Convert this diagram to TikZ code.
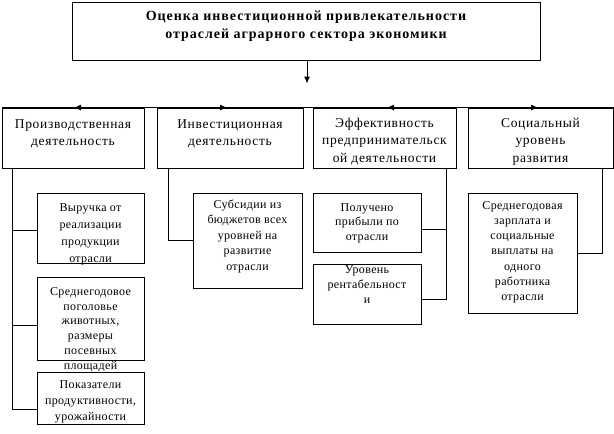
\documentclass[tikz,border=0pt]{standalone}
\usepackage{fontspec}
\setmainfont{Liberation Serif}
\usetikzlibrary{arrows.meta,calc}
\newcommand{\tp}{\rule{0pt}{0.75em}}
\begin{document}
\begin{tikzpicture}[x=1pt,y=-1pt,
  box/.style={draw,line width=1pt,inner sep=0pt,rectangle},
  txt/.style={anchor=north,inner sep=0pt,align=center},
  bigf/.style={font=\fontsize{13.5}{17.5}\selectfont\addfontfeature{LetterSpace=5}},
  smf/.style={font=\fontsize{12}{#1}\selectfont\addfontfeature{LetterSpace=3}},
  ln/.style={line width=1pt},
  arr/.style={line width=1pt,-{Latex[length=7pt,width=6pt]}}]
\useasboundingbox (0,0) rectangle (614,434);
% boxes
\node[box,minimum width=468pt,minimum height=58pt] (top) at (306,31) {};
\node[box,minimum width=142pt,minimum height=60pt] (b1) at (73,138) {};
\node[box,minimum width=146pt,minimum height=60pt] (b2) at (230,138) {};
\node[box,minimum width=143pt,minimum height=60pt] (b3) at (384.5,138) {};
\node[box,minimum width=145pt,minimum height=60pt] (b4) at (540.5,138) {};
\node[box,minimum width=107pt,minimum height=70pt] (s1) at (90.5,228) {};
\node[box,minimum width=107pt,minimum height=83pt] (s2) at (90.5,318.5) {};
\node[box,minimum width=107pt,minimum height=52pt] (s3) at (90.5,398) {};
\node[box,minimum width=109pt,minimum height=95pt] (s4) at (247.5,240.5) {};
\node[box,minimum width=108pt,minimum height=59pt] (s5) at (367,222.5) {};
\node[box,minimum width=108pt,minimum height=60pt] (s6) at (367,294) {};
\node[box,minimum width=109pt,minimum height=120pt] (s7) at (522.5,253) {};
% texts
\node[txt,font=\bfseries\fontsize{14}{18}\selectfont\addfontfeature{LetterSpace=7}] (t0) at (306,10) {\tp Оценка инвестиционной привлекательности\\отраслей аграрного сектора экономики};
\node[txt,bigf] (t1) at (73,118) {\tp Производственная\\деятельность};
\node[txt,bigf] (t2) at (230,118) {\tp Инвестиционная\\деятельность};
\node[txt,bigf] (t3) at (384.5,117) {\tp Эффективность\\предпринимательск\\ой деятельности};
\node[txt,bigf] (t4) at (540.5,117) {\tp Социальный\\уровень\\развития};
\node[txt,smf=17.2] (u1) at (90.5,202) {\tp Выручка от\\реализации\\продукции\\отрасли};
\node[txt,smf=14.8] (u2) at (90.5,286) {\tp Среднегодовое\\поголовье\\животных,\\размеры\\посевных\\площадей};
\node[txt,smf=16] (u3) at (90.5,379) {\tp Показатели\\продуктивности,\\урожайности};
\node[txt,smf=15.5] (u4) at (247.5,199) {\tp Субсидии из\\бюджетов всех\\уровней на\\развитие\\отрасли};
\node[txt,smf=14.5] (u5) at (367,202) {\tp Получено\\прибыли по\\отрасли};
\node[txt,smf=15] (u6) at (367,264) {\tp Уровень\\рентабельност\\и};
\node[txt,smf=15.2] (u7) at (522.5,200) {\tp Среднегодовая\\зарплата и\\социальные\\выплаты на\\одного\\работника\\отрасли};
% connectors
\coordinate (tipA) at ($(top.south)+(1,23)$);
\draw[arr] ($(top.south)+(1,0)$) -- (tipA);
\draw[ln] (b1.north west) -- (b4.north east);
\draw[arr] ($(b1.north)+(10,0)$) -- ($(b1.north)+(1,0)$);
\draw[arr] ($(b2.north)+(-12,0)$) -- ($(b2.north)+(-3,0)$);
\draw[arr] ($(b3.north)+(11,0)$) -- ($(b3.north)+(2.5,0)$);
\draw[arr] ($(b4.north)+(-11.5,0)$) -- ($(b4.north)+(-2.5,0)$);
% entry points
\coordinate (e1) at ([yshift=-2pt]s1.west);
\coordinate (e2) at ([yshift=-6.5pt]s2.west);
\coordinate (e3) at ([yshift=-11pt]s3.west);
\coordinate (e5) at ([yshift=-6.5pt]s5.east);
\coordinate (e6) at ([yshift=-5pt]s6.east);
% trunk 1
\coordinate (k1) at ($(b1.south west)+(11,0)$);
\draw[ln] (k1) |- (e3);
\draw[ln] (k1 |- e1) -- (e1);
\draw[ln] (k1 |- e2) -- (e2);
% trunk 2
\coordinate (k2) at ($(b2.south west)+(12,0)$);
\draw[ln] (k2) |- (s4.west);
% trunk 3
\coordinate (k3) at ($(b3.south east)+(-10,0)$);
\draw[ln] (k3) |- (e6);
\draw[ln] (k3 |- e5) -- (e5);
% trunk 4
\coordinate (k4) at ($(b4.south east)+(-11,0)$);
\draw[ln] (k4) |- (s7.east);
\end{tikzpicture}
\end{document}
